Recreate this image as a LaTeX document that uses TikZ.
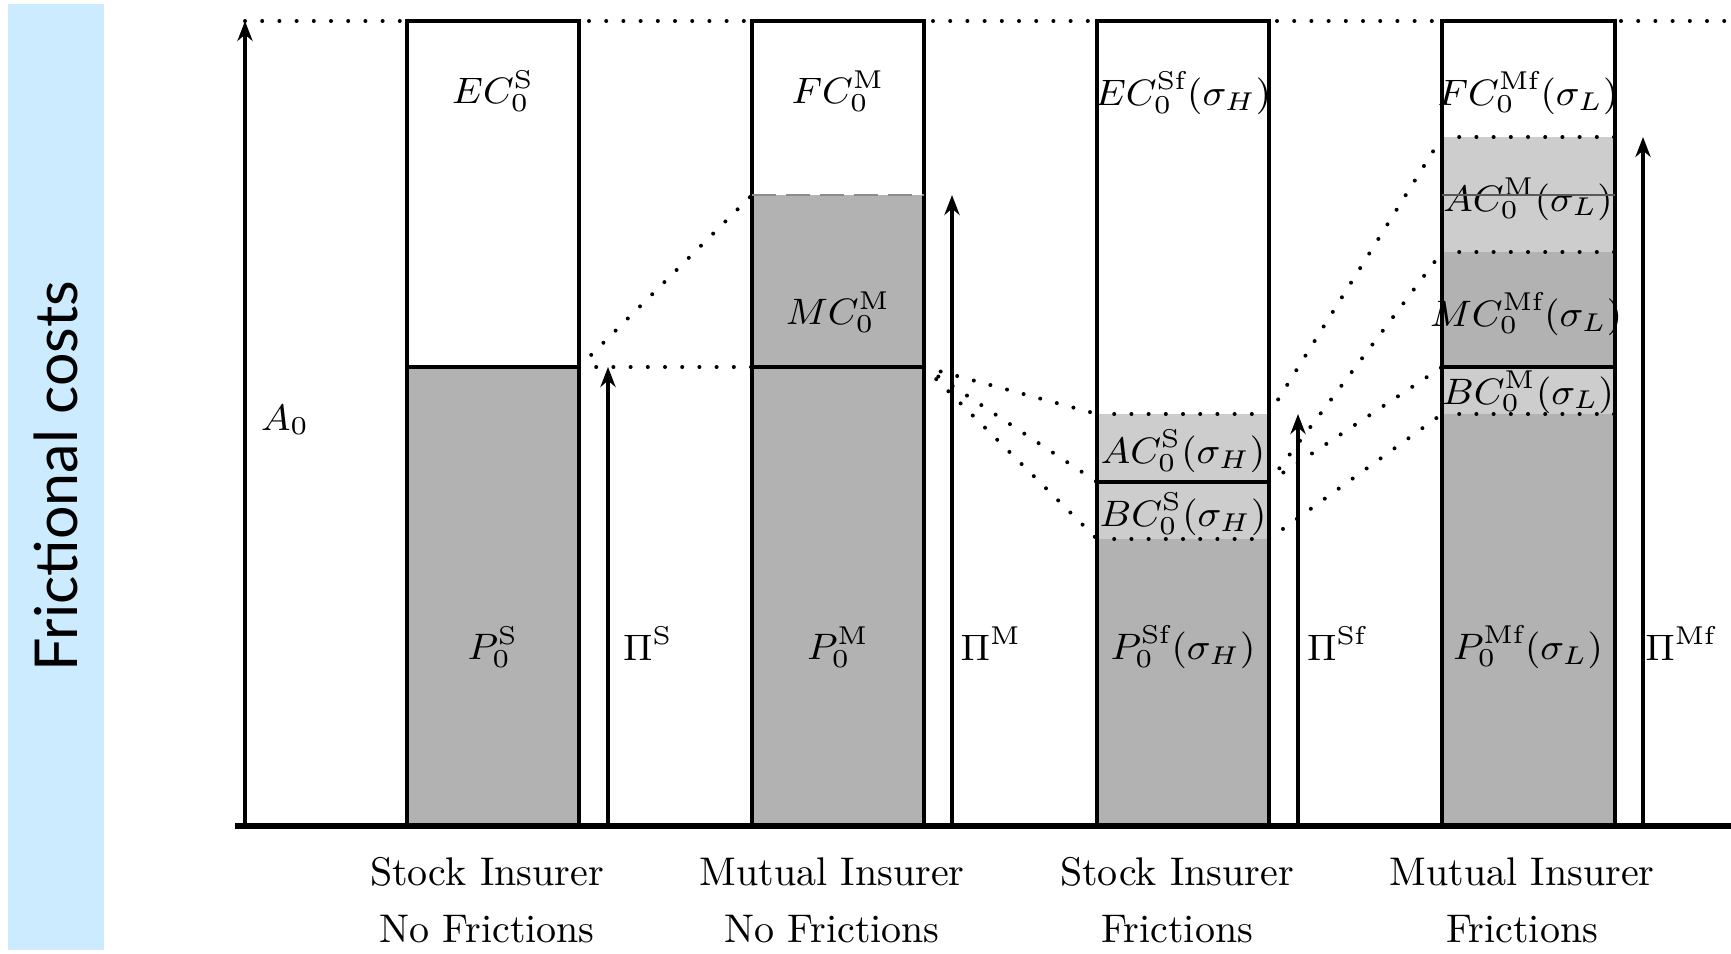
\RequirePackage{fix-cm}
\documentclass[tikz,border=0pt]{standalone}
\usepackage{fontspec}
\usepackage{graphicx}
\newfontfamily\sansfam{Lato}
\usetikzlibrary{arrows.meta}
\definecolor{bandblue}{RGB}{204,235,255}
\definecolor{dgray}{RGB}{178,178,178}
\definecolor{lgray}{RGB}{205,205,205}
\newcommand{\ml}[1]{\scalebox{1.04}[1]{$#1$}}
\begin{document}
\begin{tikzpicture}[x=0.25pt,y=-0.25pt,
  barline/.style={line width=0.85pt},
  dotline/.style={line width=1pt, dash pattern=on 0pt off 4.3pt, line cap=round},
  arr/.style={line width=0.8pt, -{Stealth[length=5pt,width=3.8pt,inset=1.6pt]}},
  mlab/.style={inner sep=0pt, font=\fontsize{9.2}{11}\selectfont},
  blab/.style={inner sep=0pt, anchor=base, font=\fontsize{10}{12}\selectfont},
  plab/.style={inner sep=0pt, anchor=base, font=\fontsize{9.2}{11}\selectfont}]
\useasboundingbox (0,0) rectangle (1731,953);
% side band
\fill[bandblue] (8,4) rectangle (104,950);
\node[rotate=90, inner sep=0pt, font=\sansfam\fontsize{15.5}{18}\selectfont] (ylab) at (56,476) {\resizebox{97.5pt}{!}{Frictional costs}};
% coordinates
\coordinate (a0b) at (245,826); \coordinate (a0t) at (245,21);
\coordinate (topr) at (1731,21);
\coordinate (s1) at (579,367);
\coordinate (m1) at (752,367); \coordinate (m2) at (752,195); \coordinate (m3) at (924,367);
\coordinate (sf1) at (1097,414); \coordinate (sf2) at (1097,482); \coordinate (sf3) at (1097,539);
\coordinate (sf4) at (1269,414); \coordinate (sf5) at (1269,482); \coordinate (sf6) at (1269,539);
\coordinate (mf1) at (1442,137); \coordinate (mf2) at (1442,252); \coordinate (mf3) at (1442,367); \coordinate (mf4) at (1442,414);
% fills
\fill[dgray] (407,367) rectangle (579,826);
\fill[dgray] (752,195) rectangle (924,826);
\fill[lgray] (1097,414) rectangle (1269,539);
\fill[dgray] (1097,539) rectangle (1269,826);
\fill[lgray] (1442,137) rectangle (1615,252);
\fill[dgray] (1442,252) rectangle (1615,367);
\fill[lgray] (1442,367) rectangle (1615,414);
\fill[dgray] (1442,414) rectangle (1615,826);
% top dotted line
\draw[dotline] (a0t) -- (topr);
% bar outlines
\draw[barline] (407,21) rectangle (579,826);
\draw[barline] (752,21) rectangle (924,826);
\draw[barline] (1097,21) rectangle (1269,826);
\draw[barline] (1442,21) rectangle (1615,826);
% dividers
\draw[barline] (407,367) -- (579,367);
\draw[line width=0.6pt, black!45, dash pattern=on 6pt off 2.5pt] (752,195) -- (924,195);
\draw[barline] (752,367) -- (924,367);
\draw[dotline] (1097,414) -- (1269,414);
\draw[barline] (1097,482) -- (1269,482);
\draw[dotline] (1097,539) -- (1269,539);
\draw[dotline] (1442,137) -- (1615,137);
\draw[dotline] (1442,252) -- (1615,252);
\draw[barline] (1442,367) -- (1615,367);
\draw[dotline] (1442,414) -- (1615,414);
% connectors
\draw[dotline] (s1) -- (m1);
\draw[dotline] (s1) -- (m2);
\draw[dotline] (m3) -- (sf1);
\draw[dotline] (m3) -- (sf2);
\draw[dotline] (m3) -- (sf3);
\draw[dotline] (sf4) -- (mf1);
\draw[dotline] (sf5) -- (mf2);
\draw[dotline] (sf5) -- (mf3);
\draw[dotline] (sf6) -- (mf4);
% arrows
\draw[arr] (a0b) -- (a0t);
\draw[arr] (608,826) -- (608,367);
\draw[arr] (952,826) -- (952,195);
\draw[arr] (1298,826) -- (1298,414);
\draw[arr] (1643,826) -- (1643,137);
% axis
\draw[line width=1.5pt] (235,826) -- (1731,826);
% labels
\node[mlab] (lA) at (285,420) {\ml{A_0}};
\node[mlab] (l1a) at (493,91) {\ml{EC_0^{\mathrm{S}}}};
\node[mlab] (l1b) at (493,647) {\ml{P_0^{\mathrm{S}}}};
\node[mlab] (l2a) at (838,91) {\ml{FC_0^{\mathrm{M}}}};
\node[mlab] (l2b) at (838,312) {\ml{MC_0^{\mathrm{M}}}};
\node[mlab] (l2c) at (838,647) {\ml{P_0^{\mathrm{M}}}};
\node[mlab] (l3a) at (1183,93) {\ml{EC_0^{\mathrm{Sf}}(\sigma_H)}};
\node[mlab] (l3b) at (1183,451) {\ml{AC_0^{\mathrm{S}}(\sigma_H)}};
\node[mlab] (l3c) at (1183,514) {\ml{BC_0^{\mathrm{S}}(\sigma_H)}};
\node[mlab] (l3d) at (1183,647) {\ml{P_0^{\mathrm{Sf}}(\sigma_H)}};
\node[mlab] (l4a) at (1528,93) {\ml{FC_0^{\mathrm{Mf}}(\sigma_L)}};
\node[mlab] (l4b) at (1528,199) {\ml{AC_0^{\mathrm{M}}(\sigma_L)}};
\node[mlab] (l4c) at (1526,314) {\ml{MC_0^{\mathrm{Mf}}(\sigma_L)}};
\node[mlab] (l4d) at (1528,392) {\ml{BC_0^{\mathrm{M}}(\sigma_L)}};
\node[mlab] (l4e) at (1528,647) {\ml{P_0^{\mathrm{Mf}}(\sigma_L)}};
\draw[line width=0.35pt, black!65] (1442,195) -- (1615,195);
\node[plab] (p1) at (648,660) {\ml{\Pi^{\mathrm{S}}}};
\node[plab] (p2) at (991,660) {\ml{\Pi^{\mathrm{M}}}};
\node[plab] (p3) at (1337,660) {\ml{\Pi^{\mathrm{Sf}}}};
\node[plab] (p4) at (1681,660) {\ml{\Pi^{\mathrm{Mf}}}};
% bottom labels
\node[blab] (t1a) at (487,885) {Stock Insurer};
\node[blab] (t1b) at (487,942) {No Frictions};
\node[blab] (t2a) at (832,885) {Mutual Insurer};
\node[blab] (t2b) at (832,942) {No Frictions};
\node[blab] (t3a) at (1177,885) {Stock Insurer};
\node[blab] (t3b) at (1177,942) {Frictions};
\node[blab] (t4a) at (1522,885) {Mutual Insurer};
\node[blab] (t4b) at (1522,942) {Frictions};
\end{tikzpicture}
\end{document}
